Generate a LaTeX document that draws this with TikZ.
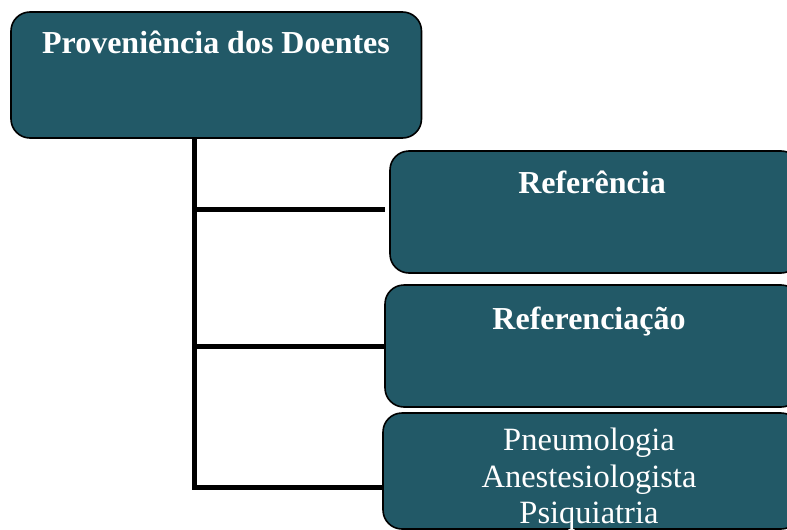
\documentclass[tikz,border=0pt]{standalone}
\usepackage{fontspec}
\setmainfont{Liberation Serif}
\definecolor{boxfill}{RGB}{34,89,103}
\begin{document}
\begin{tikzpicture}[x=1pt,y=-1pt,
  box/.style={draw=black, line width=1.6pt, fill=boxfill, rounded corners=19pt},
  lbl/.style={text=white, font=\fontsize{32.5}{37}\selectfont, align=center, inner sep=0pt},
  blbl/.style={lbl, font=\fontsize{32}{37}\selectfont\bfseries},
  conn/.style={line width=5pt, black}]
\useasboundingbox (0,0) rectangle (787,530);
\clip (0,0) rectangle (787,530);
% boxes
\draw[box] (11,12) rectangle (421.5,138);
\node[blbl, anchor=base] (top) at (216,53) {Proveniência dos Doentes};
\draw[box] (390,151) rectangle (800,273);
\node[blbl, anchor=base] (ref) at (592,193) {Referência};
\draw[box] (385,285) rectangle (800,407);
\node[blbl, anchor=base] (refc) at (589,329) {Referenciação};
\draw[box] (383,413) rectangle (800,529);
\node[lbl, anchor=base] (l1) at (589,450) {Pneumologia};
\node[lbl, anchor=base] (l2) at (589,487) {Anestesiologista};
\node[lbl, anchor=base] (l3) at (589,523) {Psiquiatria};
% connectors
\coordinate (vt) at (194.5,138);
\coordinate (vb) at (194.5,487);
\coordinate (h1) at (385,209);
\coordinate (h2) at (385,346);
\coordinate (h3) at (383,487);
\draw[conn] (vt) -- (vb);
\draw[conn] (194.5,209) -- (h1);
\draw[conn] (194.5,346) -- (h2);
\draw[conn] ([xshift=-2.5pt]vb) -- (h3);
\end{tikzpicture}
\end{document}
